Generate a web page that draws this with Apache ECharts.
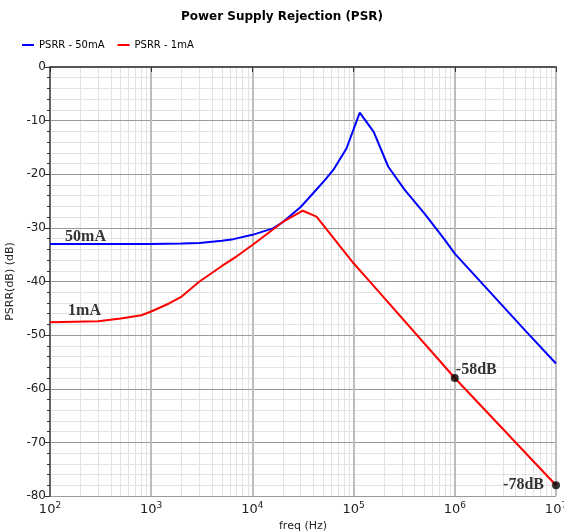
<!DOCTYPE html>
<html>
<head>
<meta charset="utf-8">
<style>
  html, body { margin: 0; padding: 0; background: #fff; }
  #chart { width: 564px; height: 531px; }
</style>
<script src="https://cdn.jsdelivr.net/npm/echarts@6/dist/echarts.min.js"></script>
</head>
<body>
<div id="chart"></div>
<script>
// PSRR - 50mA
const freq50 = [100, 500, 1000, 2000, 3000, 5000, 6500, 10000, 16000, 20000, 30000, 40000, 52000, 63000, 85000, 115000, 158000, 220000, 320000, 500000, 780000, 1000000, 2000000, 5000000, 10000000]
const psrr50 = [-33, -33, -33, -32.9, -32.8, -32.4, -32.1, -31.3, -30.1, -28.9, -26.1, -23.5, -21.1, -19.2, -15.2, -8.5, -12.1, -18.6, -22.9, -27.3, -32, -34.8, -41, -49.2, -55.3]

// PSRR - 1mA
const freq1 = [100, 300, 500, 800, 1000, 1500, 2000, 3000, 5000, 7000, 10000, 20000, 31500, 43000, 100000, 170000, 1000000, 10000000]
const psrr1 = [-47.6, -47.4, -46.9, -46.3, -45.6, -44.1, -42.8, -40, -37.1, -35.3, -33.2, -28.9, -26.8, -27.9, -36.6, -41.5, -58, -78]

// text notes and marked points
const curveNotes = [['50mA', 141, -31.7], ['1mA', 151, -45.5]]
const markedPoints = [['-58dB', 1000000, -58], ['-78dB', 10000000, -78]]

const decades = [100, 1000, 10000, 100000, 1000000]
const minorSteps = [2, 3, 4, 5, 6, 7, 8, 9]

const minorLines = []
decades.forEach(d => minorSteps.forEach(m => minorLines.push({ xAxis: d * m })))

const chart = echarts.init(document.getElementById('chart'))

chart.setOption({
  animation: false,
  title: {
    text: 'Power Supply Rejection (PSR)',
    left: 'center',
    top: 6,
    textStyle: { fontFamily: 'DejaVu Sans', fontSize: 12, fontWeight: 'bold', color: '#000' }
  },
  legend: {
    left: 16,
    top: 35,
    itemWidth: 12,
    itemHeight: 2,
    itemGap: 12,
    data: ['PSRR - 50mA', 'PSRR - 1mA'],
    textStyle: { fontFamily: 'DejaVu Sans', fontSize: 10, color: '#000' }
  },
  grid: { left: 50, right: 8, top: 67, bottom: 35, containLabel: false, outerBoundsMode: 'none' },
  xAxis: {
    type: 'log',
    logBase: 10,
    min: 100,
    max: 10000000,
    name: 'freq (Hz)',
    nameLocation: 'middle',
    nameGap: 22,
    nameTextStyle: { fontFamily: 'DejaVu Sans', fontSize: 11, color: '#222' },
    z: 1,
    axisLine: { lineStyle: { color: '#555', width: 2 } },
    axisTick: { length: 5, lineStyle: { color: '#333' } },
    axisLabel: {
      margin: 5,
      formatter: v => '10{sup|' + Math.round(Math.log10(v)) + '}',
      fontFamily: 'DejaVu Sans',
      fontSize: 13,
      color: '#222',
      rich: {
        sup: { fontFamily: 'DejaVu Sans', fontSize: 9, color: '#222', verticalAlign: 'top', padding: [0, 0, 8, 0] }
      }
    },
    splitLine: { show: true, lineStyle: { color: '#bdbdbd', width: 2 } }
  },
  yAxis: {
    type: 'value',
    min: -80,
    max: 0,
    interval: 10,
    name: 'PSRR(dB) (dB)',
    nameLocation: 'middle',
    nameGap: 30,
    nameTextStyle: { fontFamily: 'DejaVu Sans', fontSize: 11, color: '#222' },
    z: 1,
    axisLine: { show: true, lineStyle: { color: '#666', width: 2 } },
    axisTick: { show: true, length: 5, lineStyle: { color: '#333' } },
    minorTick: { show: true, splitNumber: 5, length: 3, lineStyle: { color: '#333' } },
    axisLabel: { margin: 4, fontFamily: 'DejaVu Sans', fontSize: 12, color: '#222' },
    splitLine: { lineStyle: { color: '#9a9a9a', width: 1 } },
    minorSplitLine: { show: true, lineStyle: { color: '#e2e2e2', width: 1 } }
  },
  series: [
    {
      name: 'grid-minor',
      type: 'line',
      data: [],
      z: 0,
      silent: true,
      markLine: {
        silent: true,
        z: 0,
        symbol: 'none',
        label: { show: false },
        lineStyle: { color: '#e2e2e2', width: 1, type: 'solid' },
        data: minorLines.concat([{ yAxis: 0, lineStyle: { color: '#000', width: 1.5 } }])
      }
    },
    {
      name: 'PSRR - 50mA',
      type: 'line',
      symbol: 'none',
      z: 3,
      color: '#0000ff',
      lineStyle: { color: '#0000ff', width: 2 },
      data: freq50.map((f, i) => [f, psrr50[i]])
    },
    {
      name: 'PSRR - 1mA',
      type: 'line',
      symbol: 'none',
      z: 3,
      color: '#ff0000',
      lineStyle: { color: '#ff0000', width: 2 },
      data: freq1.map((f, i) => [f, psrr1[i]])
    },
    {
      name: 'notes',
      type: 'scatter',
      symbolSize: 0,
      z: 4,
      silent: true,
      label: {
        show: true,
        position: 'right',
        distance: 0,
        formatter: p => p.value[2],
        fontFamily: 'Liberation Serif',
        fontWeight: 'bold',
        fontSize: 16,
        color: '#000'
      },
      data: curveNotes.map(n => [n[1], n[2], n[0]])
    },
    {
      name: 'points',
      type: 'scatter',
      symbolSize: 8,
      clip: false,
      z: 4,
      silent: true,
      itemStyle: { color: '#000' },
      label: {
        show: true,
        formatter: p => p.value[2],
        fontFamily: 'Liberation Serif',
        fontWeight: 'bold',
        fontSize: 16,
        color: '#000'
      },
      data: markedPoints.map((n, i) => ({
        value: [n[1], n[2], n[0]],
        label: i === 0 ? { position: [5, -12] } : { position: 'left', distance: 8 }
      }))
    }
  ]
})
</script>
</body>
</html>
